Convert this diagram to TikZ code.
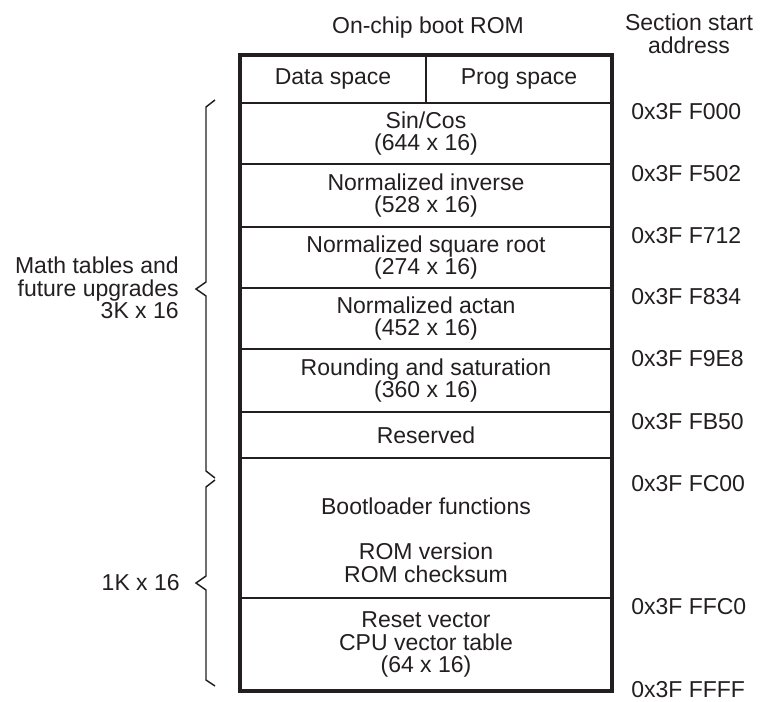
\documentclass[tikz,border=0pt]{standalone}
\usepackage{fontspec}
\setmainfont{Liberation Sans}
\usetikzlibrary{positioning}
\definecolor{ink}{HTML}{231F20}
\tikzstyle{row} = [rectangle, draw=ink, line width=1.5pt, minimum width=279pt, text centered, align=center, text=ink, inner sep=0pt, outer sep=0pt, anchor=north]
\tikzstyle{note} = [text=ink, inner sep=0pt, align=right]
\tikzstyle{addr} = [text=ink, inner sep=0pt, anchor=base west]
\tikzstyle{frame} = [draw=ink, line width=3pt]
\tikzstyle{brace} = [draw=ink, line width=1.1pt, line join=miter]
\tikzset{rowh/.style={minimum height=#1*0.75pt}}

\begin{document}
\begin{tikzpicture}[x=0.75pt, y=-0.75pt, font=\fontsize{17.25}{17}\selectfont]
    \useasboundingbox (0,0) rectangle (760,702);

    \node (title) [note, align=center] at (428,28) {On-chip boot ROM};
    \node (secaddr) [note, align=center] at (689,34) {Section start\\address};

    \node (hdata) [row, rowh=48, minimum width=139.5pt, anchor=north west] at (240,55) {Data space};
    \node (hprog) [row, rowh=48, minimum width=139.5pt, right=0pt of hdata] {Prog space};
    \node (sincos) [row, rowh=61, below=0pt of hdata.south east] {Sin/Cos\\(644 x 16)};
    \node (inverse) [row, rowh=63, below=0pt of sincos] {Normalized inverse\\(528 x 16)};
    \node (sqroot) [row, rowh=61, below=0pt of inverse] {Normalized square root\\(274 x 16)};
    \node (actan) [row, rowh=61, below=0pt of sqroot] {Normalized actan\\(452 x 16)};
    \node (rounding) [row, rowh=63, below=0pt of actan] {Rounding and saturation\\(360 x 16)};
    \node (reserved) [row, rowh=46, below=0pt of rounding] {Reserved};
    \node (boot) [row, rowh=140, below=0pt of reserved] {};
    \node (reset) [row, rowh=93, below=0pt of boot] {Reset vector\\CPU vector table\\(64 x 16)};
    \node (boottext) [note, align=center, yshift=-9pt] at (boot.center) {Bootloader functions\\[\baselineskip]ROM version\\ROM checksum};
    \draw [frame] (hdata.north west) rectangle (reset.south east);

    % addresses
    \node (a0) [addr] at (631,119.5) {0x3F F000};
    \node (a1) [addr] at (631,181.5) {0x3F F502};
    \node (a2) [addr] at (631,243.5) {0x3F F712};
    \node (a3) [addr] at (631,304.5) {0x3F F834};
    \node (a4) [addr] at (631,366.5) {0x3F F9E8};
    \node (a5) [addr] at (631,429.5) {0x3F FB50};
    \node (a6) [addr] at (631,491.5) {0x3F FC00};
    \node (a7) [addr] at (631,614.5) {0x3F FFC0};
    \node (a8) [addr] at (631,697) {0x3F FFFF};

    % braces
    \node (math) [note, anchor=east] at (179,288) {Math tables and\\future upgrades\\3K x 16};
    \node (onek) [note, anchor=east] at (180,582.5) {1K x 16};
    \draw [brace] (215,100) -- (206,107) -- (206,282) -- (196,289) -- (206,296) -- (206,471) -- (215,478);
    \draw [brace] (215,480) -- (206,487) -- (206,576) -- (196,583) -- (206,590) -- (206,680) -- (215,686);
\end{tikzpicture}
\end{document}
